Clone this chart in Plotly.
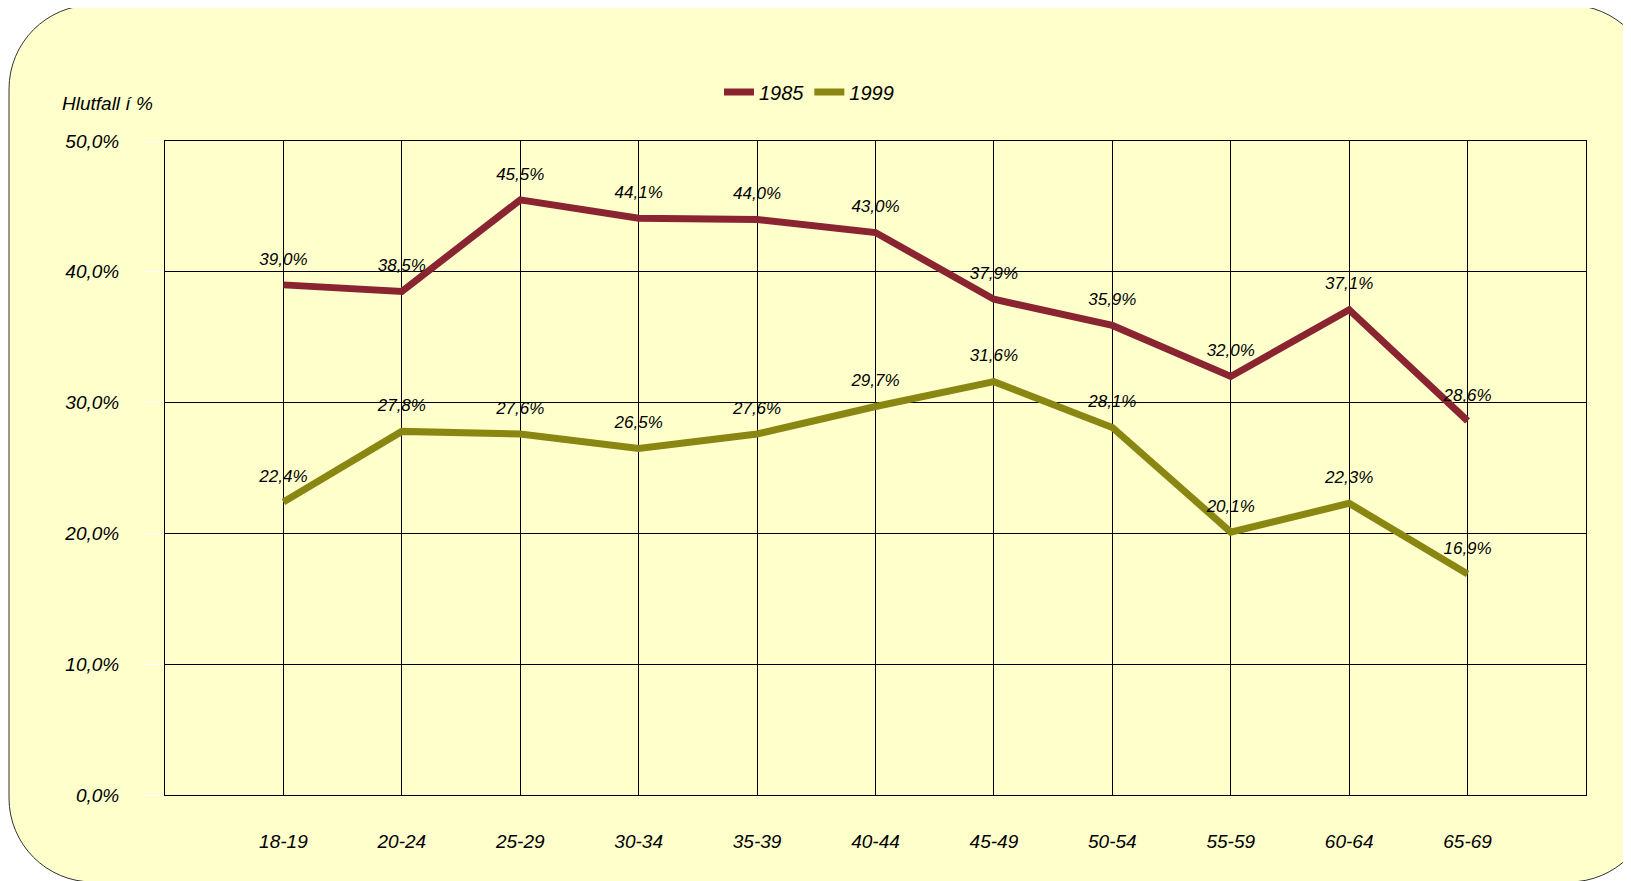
import plotly.graph_objects as go

# age groups and share (%) for each survey year
age_groups = ["18-19", "20-24", "25-29", "30-34", "35-39", "40-44",
              "45-49", "50-54", "55-59", "60-64", "65-69"]
share_1985 = [39.0, 38.5, 45.5, 44.1, 44.0, 43.0, 37.9, 35.9, 32.0, 37.1, 28.6]
share_1999 = [22.4, 27.8, 27.6, 26.5, 27.6, 29.7, 31.6, 28.1, 20.1, 22.3, 16.9]

W, H = 1631, 881
OFF = 8  # page body margin around the plot div
# plot area in page pixels: left 165, top 141, right 1586, bottom 795
L, T = 165 - OFF, 141 - OFF
R, B = W - (1586 - OFF), H - (795 - OFF)
FONT = "Liberation Sans, Arial, sans-serif"


def px(x, y):
    """page pixel position -> paper coordinates"""
    x, y = x - OFF, y - OFF
    return (x - L) / (W - L - R), (H - B - y) / (H - T - B)


def rounded_rect(x0, y0, x1, y1, r):
    k = 0.5523 * r
    pts = [
        ("M", [(x0 + r, y0)]),
        ("L", [(x1 - r, y0)]),
        ("C", [(x1 - r + k, y0), (x1, y0 + r - k), (x1, y0 + r)]),
        ("L", [(x1, y1 - r)]),
        ("C", [(x1, y1 - r + k), (x1 - r + k, y1), (x1 - r, y1)]),
        ("L", [(x0 + r, y1)]),
        ("C", [(x0 + r - k, y1), (x0, y1 - r + k), (x0, y1 - r)]),
        ("L", [(x0, y0 + r)]),
        ("C", [(x0, y0 + r - k), (x0 + r - k, y0), (x0 + r, y0)]),
    ]
    out = []
    for cmd, plist in pts:
        coords = " ".join("%.5f,%.5f" % px(a, b) for a, b in plist)
        out.append(cmd + " " + coords)
    return " ".join(out) + " Z"


fig = go.Figure()

for name, vals, color in [("1985", share_1985, "#8A2430"),
                          ("1999", share_1999, "#8A8612")]:
    fig.add_trace(go.Scatter(
        x=age_groups,
        y=[v / 100 for v in vals],
        name=name,
        mode="lines+markers+text",
        line=dict(color=color, width=7),
        marker=dict(size=24, color="rgba(0,0,0,0)"),
        text=[("%.1f%%" % v).replace(".", ",") for v in vals],
        textposition="top center",
        textfont=dict(family=FONT, size=17, color="black", style="italic"),
        cliponaxis=False,
    ))

fig.add_shape(
    type="path",
    path=rounded_rect(9, 5, 1653, 882, 84),
    xref="paper", yref="paper",
    fillcolor="#FFFFCC",
    line=dict(color="#333333", width=1),
    layer="below",
)

fig.add_annotation(
    text="Hlutfall í %",
    xref="paper", yref="paper",
    x=px(60, 104)[0], y=px(60, 104)[1],
    xanchor="left", yanchor="middle",
    showarrow=False,
    font=dict(family=FONT, size=19, color="black", style="italic"),
)

fig.update_layout(
    width=W, height=H,
    margin=dict(l=L, r=R, t=T, b=B),
    paper_bgcolor="white",
    plot_bgcolor="rgba(0,0,0,0)",
    separators=",.",
    font=dict(family=FONT, size=19, color="black", style="italic"),
    showlegend=True,
    legend=dict(
        orientation="h",
        x=px(809, 92)[0], y=px(809, 92)[1],
        xanchor="center", yanchor="middle",
        font=dict(family=FONT, size=20, color="black", style="italic"),
        bgcolor="rgba(0,0,0,0)",
        itemwidth=30,
    ),
    xaxis=dict(
        type="category",
        range=[-1, len(age_groups)],
        showgrid=True, gridcolor="black", gridwidth=1,
        showline=True, linecolor="black", linewidth=1, mirror=True,
        ticks="", ticklabelstandoff=29,
        zeroline=False,
    ),
    yaxis=dict(
        range=[0, 0.5],
        dtick=0.1,
        tickformat=".1%",
        showgrid=True, gridcolor="black", gridwidth=1,
        showline=True, linecolor="black", linewidth=1, mirror=True,
        ticks="outside", ticklen=21, tickcolor="white", tickwidth=1,
        ticklabelstandoff=20,
        zeroline=False,
    ),
)

fig.write_html("out.html")
